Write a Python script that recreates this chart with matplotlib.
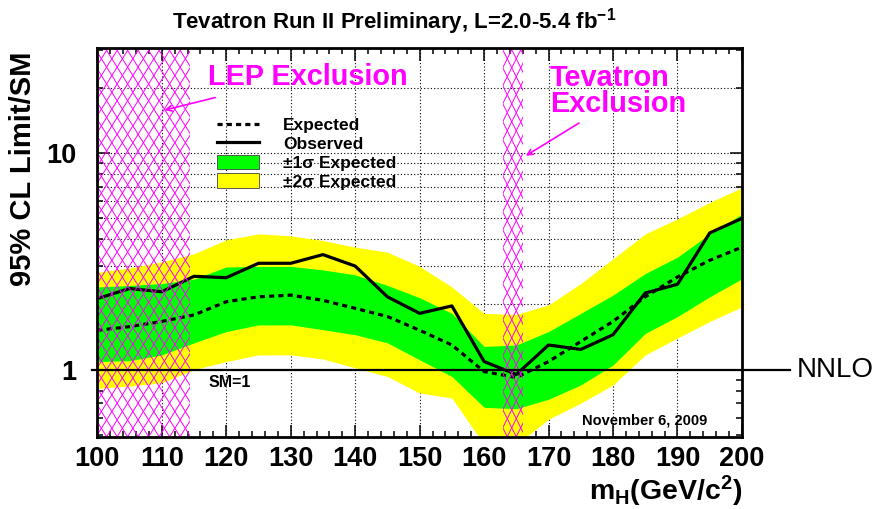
import numpy as np
import matplotlib.pyplot as plt
from matplotlib.lines import Line2D
from matplotlib.patches import Patch
from matplotlib.collections import LineCollection
from matplotlib.ticker import FixedLocator, LogLocator, NullFormatter, FuncFormatter

plt.rcParams['font.family'] = ['Liberation Sans', 'DejaVu Sans']
plt.rcParams['font.weight'] = 'bold'
plt.rcParams['mathtext.fontset'] = 'custom'
plt.rcParams['mathtext.rm'] = 'Liberation Sans:bold'
plt.rcParams['mathtext.it'] = 'Liberation Sans:bold'
plt.rcParams['mathtext.bf'] = 'Liberation Sans:bold'
plt.rcParams['mathtext.default'] = 'rm'

# Higgs mass points (GeV/c^2)
mass = [100, 105, 110, 115, 120, 125, 130, 135, 140, 145, 150,
        155, 160, 165, 170, 175, 180, 185, 190, 195, 200]

# 95% CL limit / SM
observed = [2.13, 2.37, 2.29, 2.70, 2.66, 3.10, 3.10, 3.40, 3.01, 2.17, 1.82,
            1.97, 1.09, 0.95, 1.30, 1.24, 1.45, 2.26, 2.48, 4.28, 5.00]
expected = [1.52, 1.58, 1.67, 1.79, 2.06, 2.17, 2.21, 2.09, 1.92, 1.76, 1.52,
            1.30, 0.98, 0.92, 1.09, 1.35, 1.67, 2.17, 2.68, 3.20, 3.68]
exp_p1 = [2.41, 2.45, 2.50, 2.62, 2.98, 3.00, 3.00, 2.89, 2.74, 2.45, 2.15,
          1.82, 1.28, 1.30, 1.50, 1.82, 2.21, 2.78, 3.31, 4.24, 5.23]
exp_m1 = [1.09, 1.10, 1.17, 1.33, 1.50, 1.61, 1.61, 1.53, 1.45, 1.33, 1.11,
          0.93, 0.67, 0.66, 0.73, 0.85, 1.05, 1.47, 1.76, 2.17, 2.63]
exp_p2 = [2.82, 2.95, 3.15, 3.43, 3.98, 4.24, 4.15, 3.95, 3.68, 3.49, 3.00,
          2.41, 1.82, 1.80, 1.99, 2.50, 3.25, 4.24, 4.97, 5.92, 6.93]
exp_m2 = [0.82, 0.84, 0.87, 1.00, 1.09, 1.17, 1.17, 1.12, 1.02, 0.93, 0.78,
          0.74, 0.45, 0.45, 0.59, 0.70, 0.85, 1.17, 1.40, 1.67, 1.95]

lep_excl = (100, 114.4)
tev_excl = (163, 166)
sm_level = 1
grid_y = [2, 3, 4, 5, 6, 7, 8, 9, 10, 20]
grid_x = [110, 120, 130, 140, 150, 160, 170, 180, 190]

magenta = '#ff00ff'

fig = plt.figure(figsize=(8.77, 5.09), dpi=100)
ax_rect = [0.111, 0.142, 0.735, 0.763]
ax = fig.add_axes(ax_rect)
ax.set_xlim(100, 200)

# pixel geometry of the axes, used for the steep ROOT-like crosshatch
ax_w_px = fig.get_figwidth() * fig.dpi * ax_rect[2]
ax_h_px = fig.get_figheight() * fig.dpi * ax_rect[3]
px_per_gev = ax_w_px / 100.0


def crosshatch(lo, hi, step_px=10.5, slope=1.6):
    span = ax.axvspan(lo, hi, facecolor='none', lw=0)
    step = step_px / px_per_gev
    run = ax_h_px / slope / px_per_gev
    segs = []
    for x0 in np.arange(lo - run - step, hi + run + step, step):
        segs.append([(x0, 0), (x0 + run, 1)])
        segs.append([(x0, 0), (x0 - run, 1)])
    lc = LineCollection(segs, colors=magenta, linewidths=0.7,
                        transform=ax.get_xaxis_transform(), zorder=6)
    ax.add_collection(lc, autolim=False)
    lc.set_clip_path(span)


# dotted grid, under the bands
for gx in grid_x:
    ax.axvline(gx, color='black', ls=(0, (1, 2)), lw=0.8, zorder=1)
for gy in grid_y:
    ax.axhline(gy, color='black', ls=(0, (1, 2)), lw=0.8, zorder=1)

ax.fill_between(mass, exp_m2, exp_p2, color='#ffff00', lw=0, zorder=2)
ax.fill_between(mass, exp_m1, exp_p1, color='#00ff00', lw=0, zorder=3)
ax.plot(mass, expected, color='black', lw=2.3, ls=(0, (1.6, 1.3)), zorder=5)
ax.plot(mass, observed, color='black', lw=2.3, zorder=5)

# exclusion regions
crosshatch(*lep_excl)
crosshatch(*tev_excl, step_px=9.0, slope=2.0)

# SM = 1 line, running outside the frame
ax.plot([99.13, 207.4], [sm_level, sm_level], color='black', lw=1.6, clip_on=False, zorder=7)
ax.text(208.5, sm_level, 'NNLO', fontsize=20, fontweight='normal', va='center', ha='left')
ax.text(117.2, 0.87, 'SM=1', fontsize=11.5, va='center', ha='left', zorder=8)
ax.text(175.2, 0.557, 'November 6, 2009', fontsize=10.5, va='baseline', ha='left', zorder=8)

ax.text(117.2, 22.6, 'LEP Exclusion', color=magenta, fontsize=20.8, va='center', ha='left')
ax.annotate('', xy=(110.0, 15.7), xytext=(118.7, 18.2),
            arrowprops=dict(arrowstyle='->', color=magenta, lw=1.2))
ax.text(170.2, 19.3, 'Tevatron\nExclusion', color=magenta, fontsize=20.8,
        va='center', ha='left', linespacing=0.92)
ax.annotate('', xy=(166.1, 9.58), xytext=(175.1, 14.0),
            arrowprops=dict(arrowstyle='->', color=magenta, lw=1.2))

# axes
ax.set_yscale('log')
ax.set_ylim(0.49, 30.5)
ax.set_xticks(range(100, 201, 10))
ax.set_xticks(range(100, 201, 2), minor=True)
ax.yaxis.set_major_locator(FixedLocator([1, 10]))
ax.yaxis.set_major_formatter(FuncFormatter(lambda v, p: f'{v:g}'))
ax.yaxis.set_minor_locator(LogLocator(subs=range(2, 10)))
ax.yaxis.set_minor_formatter(NullFormatter())

ax.tick_params(which='both', direction='in', top=True, right=True, width=1.1)
ax.tick_params(which='major', length=9)
ax.tick_params(which='minor', length=4.5)
ax.tick_params(axis='x', labelsize=19.5, pad=7)
ax.tick_params(axis='y', labelsize=19.5, pad=15)
for sp in ax.spines.values():
    sp.set_linewidth(2)
    sp.set_zorder(10)

ax.text(-0.115, 0.69, '95% CL Limit/SM', transform=ax.transAxes, rotation=90,
        fontsize=21, ha='center', va='center')
ax.text(1.0, -0.163, r'm$_{\mathrm{H}}$(GeV/c$^{2}$)', transform=ax.transAxes,
        fontsize=20.5, ha='right', va='baseline')
fig.text(0.449, 0.944, r'Tevatron Run II Preliminary, L=2.0-5.4 fb$^{-1}$',
         fontsize=16, ha='center', va='baseline')

handles = [Line2D([], [], color='black', lw=2.3, ls=(0, (1.6, 1.3))),
           Line2D([], [], color='black', lw=2.3),
           Patch(facecolor='#00ff00', edgecolor='#444444', lw=0.6),
           Patch(facecolor='#ffff00', edgecolor='#444444', lw=0.6)]
labels = ['Expected', 'Observed', u'\u00b11\u03c3 Expected', u'\u00b12\u03c3 Expected']
ax.legend(handles, labels, loc='upper left', bbox_to_anchor=(0.1857, 0.823),
          frameon=False, fontsize=12.5, handlelength=2.4, handleheight=0.9,
          handletextpad=1.4, labelspacing=0.15, borderpad=0, borderaxespad=0)

fig.savefig('out.png', dpi=100)
